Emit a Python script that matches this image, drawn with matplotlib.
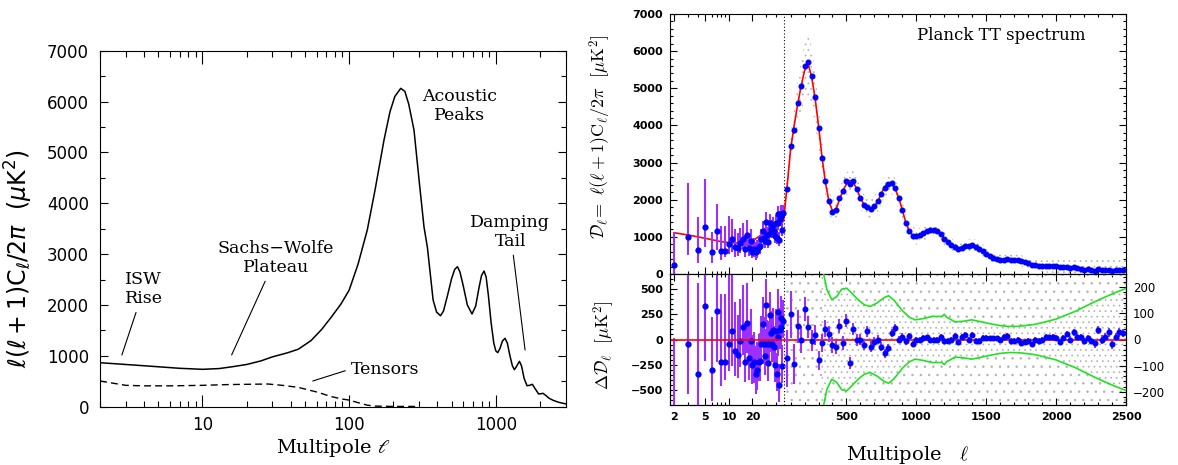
import numpy as np
import matplotlib
matplotlib.use("Agg")
import matplotlib.pyplot as plt
from matplotlib.ticker import FixedLocator, NullFormatter, LogLocator, MultipleLocator

# ---------------- left panel: schematic spectrum ----------------
tt_l = [2, 3, 4, 5, 7, 10, 13, 16, 20, 25, 30, 38, 45, 55, 65, 76, 88, 100, 115, 133,
        150, 173, 190, 205, 225, 240, 255, 277, 300, 324, 342, 374, 395, 420, 440, 470,
        500, 525, 548, 570, 600, 640, 689, 730, 770, 800, 832, 860, 890, 930, 970, 1000,
        1032, 1070, 1110, 1157, 1200, 1250, 1300, 1341, 1390, 1451, 1500, 1560, 1634,
        1700, 1778, 1850, 1963, 2030, 2100, 2200, 2300, 2460, 2700, 2960, 3000]
tt_d = [865, 830, 805, 785, 755, 735, 750, 786, 830, 900, 980, 1060, 1130, 1300, 1520,
        1770, 2020, 2290, 2800, 3474, 4250, 5244, 5800, 6100, 6260, 6200, 5950, 5440,
        4457, 3539, 3130, 2098, 1860, 1789, 1880, 2200, 2520, 2700, 2753, 2650, 2380,
        2000, 1823, 1980, 2350, 2580, 2668, 2550, 2200, 1650, 1250, 1100, 1062, 1150,
        1290, 1345, 1250, 1000, 800, 728, 800, 892, 800, 560, 413, 420, 440, 360, 250,
        255, 263, 220, 170, 126, 85, 59, 55]
tens_l = [2, 3, 4, 6, 10, 15, 20, 28, 35, 45, 60, 76, 90, 100, 115, 133, 150, 200, 300]
tens_d = [505, 420, 410, 410, 420, 435, 440, 446, 420, 380, 290, 197, 150, 130, 80, 30,
          12, 5, 5]

# ---------------- right panel: Planck TT ----------------
th_low_l = [2, 3, 4, 5, 6, 7, 8, 9, 10, 12, 14, 16, 18, 20, 22, 25, 30, 35, 40, 45]
th_low_d = [1110, 1050, 1000, 960, 925, 895, 870, 855, 845, 835, 835, 845, 860, 880,
            950, 1030, 1150, 1250, 1320, 1380]
th_l = list(range(50, 2501, 25))
th_d = [1430, 2350, 3350, 3980, 4550, 5050, 5470, 5660, 5330, 4750, 4000, 3150, 2450,
        1950, 1700, 1740, 2000, 2250, 2420, 2520, 2460, 2280, 2050, 1870, 1780, 1770,
        1830, 1960, 2170, 2360, 2450, 2430, 2280, 2040, 1720, 1380, 1150, 1040, 1010,
        1040, 1090, 1140, 1180, 1190, 1150, 1070, 960, 860, 780, 720, 695, 700, 725, 755,
        765, 745, 690, 620, 545, 480, 430, 400, 383, 378, 382, 387, 385, 375, 355, 330,
        300, 272, 248, 228, 214, 207, 204, 203, 200, 195, 188, 178, 167, 155, 144, 134,
        126, 118, 112, 107, 103, 99, 96, 93, 90, 88, 86, 84, 82]
# spread of the unbinned spectrum around the model (half width)
scat_hw = [150, 300, 400, 500, 600, 700, 800, 850, 800, 700, 600, 500, 400, 320, 300,
           300, 300, 300, 300, 300, 300, 300, 300, 280, 280, 280, 280, 280, 280, 280, 280,
           280, 280, 280, 280, 260, 240, 220, 220, 200, 200, 190, 190, 180, 180, 180, 180,
           180, 180, 180, 180, 180, 180, 180, 180, 180, 180, 180, 170, 160, 150, 150, 150,
           150, 150, 150, 150, 150, 150, 150, 150, 150, 150, 150, 160, 170, 170, 170, 175,
           180, 190, 200, 210, 220, 230, 240, 250, 260, 270, 280, 290, 300, 310, 320, 330,
           340, 350, 360, 370]

low_l = list(range(2, 50))
low_d = [250, 1004, 646, 1274, 601, 1158, 628, 628, 800, 934, 719, 692, 826, 943, 664,
         1049, 692, 898, 601, 680, 580, 635, 730, 750, 940, 1155, 980, 880, 1400, 1040,
         870, 1080, 1380, 1225, 1150, 1310, 1165, 1010, 1370, 970, 1605, 1370, 920, 1480,
         1625, 1555, 1190, 1650]
low_res = [-860, -46, -342, 336, -299, 280, -220, -220, -49, 86, -112, -158, -16, 122,
           -220, 162, -184, -16, -257, -220, -340, -300, -220, -215, -40, 155, -40, -160,
           340, -40, -230, -40, 240, 60, -40, 95, -75, -255, 80, -340, 275, 20, -450, 90,
           215, 125, -260, 180]
low_lo = [300, 490, 360, 550, 310, 500, 240, 180, 260, 350, 250, 220, 260, 280, 200, 300,
          220, 250, 180, 210, 200, 200, 190, 200, 200, 210, 200, 190, 200, 180, 180, 180,
          190, 180, 180, 180, 170, 170, 180, 170, 190, 180, 170, 180, 180, 180, 170, 170]
low_hi = [870, 1440, 900, 1290, 520, 720, 670, 670, 770, 550, 480, 400, 420, 420, 380, 400,
          320, 320, 300, 290, 280, 280, 270, 280, 270, 270, 260, 260, 260, 230, 230, 220,
          230, 220, 220, 220, 210, 210, 220, 210, 230, 220, 210, 220, 220, 220, 210, 210]

# binned residuals (right-hand scale), bins at ell = 75 ... 2475
bin_res = [-72, 97, -94, 50, 0, 117, 46, -5, 18, -80, -14, 41, 22, -20, -29, 53, -14, 71,
           -90, 41, -1, 0, -20, 31, -27, -8, 0, -27, -52, -33, 24, 43, 0, 10, -7, 12, -17,
           0, -3, 5, 8, 0, 0, 0, 10, -6, -4, 0, 12, -10, 10, 19, 0, 17, -6, -6, 5, 5, 5, 5,
           5, 0, 10, 13, -6, -6, 0, -15, -10, -6, -19, 0, -6, 0, 10, 8, 10, 7, -10, 5, 20,
           0, 27, 10, 10, -6, 7, -6, -15, 37, 0, 10, 27, -19, 10, 27, 24]
bin_err = [108, 90, 75, 62, 52, 46, 42, 40, 38, 36, 34, 32, 30, 30, 28, 27, 26, 25, 24, 23,
           22, 22, 21, 20, 20, 19, 18, 18, 17, 16, 15, 15, 14, 13, 13, 12, 12,
           11, 11, 11, 11, 11, 11, 11, 11, 11, 11, 11, 11, 11, 11, 11, 11, 11, 11, 11, 11, 11,
           10, 10, 10, 10, 10, 10, 10, 10, 10, 10, 10, 10, 10, 10, 10, 10, 10, 10, 10, 10,
           12, 12, 12, 12, 12, 12, 12, 12, 12, 12,
           16, 16, 16, 16, 16, 16, 16, 16, 16]

green_l = [320, 336, 360, 395, 431, 466, 502, 538, 586, 630, 670, 720, 770, 801, 840, 900,
           950, 992, 1050, 1111, 1183, 1200, 1215, 1277, 1340, 1396, 1460, 1539, 1600, 1658,
           1720, 1778, 1850, 1921, 2000, 2064, 2140, 2207, 2280, 2350, 2420, 2500]
green_v = [290, 253, 190, 152, 164, 192, 196, 177, 150, 132, 126, 140, 160, 167, 150, 110,
           85, 75, 80, 88, 88, 96, 86, 67, 70, 75, 68, 59, 53, 50, 50, 53, 58, 67, 78, 92,
           108, 126, 145, 162, 178, 195]

# hybrid axis: log below ell=50, linear above
LT, K = 50.0, 559.0


def fwd(x):
    x = np.asarray(x, dtype=float)
    lg = K * np.log10(np.clip(x, 1e-6, None) / LT)
    return np.where(x > LT, x - LT, lg)


def inv(u):
    u = np.asarray(u, dtype=float)
    return np.where(u > 0, u + LT, LT * 10 ** (np.clip(u, -1e5, 0) / K))


plt.rcParams["font.family"] = "DejaVu Sans"
plt.rcParams["hatch.linewidth"] = 0.5
plt.rcParams["hatch.color"] = "#b0b0b0"
grey = "#b0b0b0"

W, H = 1178, 465
fig = plt.figure(figsize=(W / 100, H / 100), dpi=100)


def box(x0, y0, x1, y1):
    return [x0 / W, 1 - y1 / H, (x1 - x0) / W, (y1 - y0) / H]


# ---------------- left ----------------
axL = fig.add_axes(box(100, 50.7, 565.7, 406.7))
axL.plot(tt_l, tt_d, color="black", lw=1.1)
axL.plot(tens_l, tens_d, color="black", lw=1.0, dashes=(5, 3))
axL.set_xscale("log")
axL.set_xlim(2, 3000)
axL.set_ylim(0, 7000)
axL.set_xticks([10, 100, 1000], labels=["10", "100", "1000"])
axL.xaxis.set_minor_locator(LogLocator(subs=np.arange(2, 10)))
axL.xaxis.set_minor_formatter(NullFormatter())
axL.yaxis.set_major_locator(MultipleLocator(1000))
axL.yaxis.set_minor_locator(MultipleLocator(500))
axL.tick_params(which="both", direction="in", top=True, right=True, labelsize=12, width=0.8)
axL.tick_params(axis="y", which="major", length=6, pad=8)
axL.tick_params(axis="y", which="minor", length=3.5)
axL.tick_params(axis="x", which="major", length=9, pad=7)
axL.tick_params(axis="x", which="minor", length=4.5)
axL.set_xlabel(r"Multipole $\ell$", family="DejaVu Serif", fontsize=14,
               math_fontfamily="dejavuserif")
axL.xaxis.set_label_coords(0.5, -0.085)
axL.set_ylabel(r"$\ell(\ell+1)\mathrm{C}_\ell/2\pi\ \ (\mu\mathrm{K}^2)$", fontsize=17)
axL.yaxis.set_label_coords(-0.14, 0.415)

txt = dict(family="DejaVu Serif", fontsize=12.5, ha="center", va="center", linespacing=1.15)
line = dict(arrowstyle="-", lw=0.8, color="black", shrinkA=2, shrinkB=0)
axL.annotate("ISW\nRise", xy=(2.82, 1017), xytext=(3.98, 2314), arrowprops=line, **txt)
axL.annotate("Sachs\u2212Wolfe\nPlateau", xy=(15.8, 1017), xytext=(31.6, 2924),
             arrowprops=line, **txt)
axL.annotate("Tensors", xy=(56.5, 505), xytext=(102.5, 741),
             arrowprops=dict(line, relpos=(0, 0.5)),
             **dict(txt, ha="left"))
axL.text(569, 5912, "Acoustic\nPeaks", **txt)
axL.annotate("Damping\nTail", xy=(1585, 1115), xytext=(1259, 3441), arrowprops=line, **txt)

# ---------------- right ----------------
axT = fig.add_axes(box(670, 14, 1126, 274))
axB = fig.add_axes(box(670, 274, 1126, 405))
axR = axB.twinx()

maj = [2, 5, 10, 20, 500, 1000, 1500, 2000, 2500]
mnr = [3, 4, 6, 7, 8, 9, 30, 40] + [v for v in range(100, 2500, 100) if v % 500]
for ax in (axT, axB):
    ax.set_xscale("function", functions=(fwd, inv))
    ax.set_xlim(1.76, 2500)
    ax.set_xticks(maj, labels=[str(v) for v in maj], fontweight="bold")
    ax.xaxis.set_minor_locator(FixedLocator(mnr))
    ax.axvline(LT, color="black", ls=(0, (1, 2)), lw=0.8, zorder=1)
axT.tick_params(axis="x", labelbottom=False)

purple = "#9b30ff"
blue = "#0000ff"

th_d_arr = np.array(th_d, dtype=float)
hw = np.array(scat_hw, dtype=float)
axT.fill_between(th_l, th_d_arr - hw, th_d_arr + hw, facecolor="none", edgecolor=grey,
                 hatch="...", lw=0, zorder=1)
axT.plot(th_low_l + th_l, th_low_d + th_d, color="red", lw=1.2, zorder=3)
axT.errorbar(low_l, low_d, yerr=[low_lo, low_hi], fmt="o", color=blue, ms=3.5,
             ecolor=purple, elinewidth=1.5, alpha=1, capsize=0, zorder=4)
bin_l = th_l[1:-1]
bin_d = th_d_arr[1:-1] + np.array(bin_res)
axT.plot(bin_l, bin_d, "o", color=blue, ms=3.3, zorder=4)
axT.set_ylim(0, 7000)
axT.set_yticks(range(0, 7001, 1000), labels=[str(v) for v in range(0, 7001, 1000)],
               fontweight="bold")
axT.yaxis.set_minor_locator(MultipleLocator(200))
axT.text(0.727, 0.919, "Planck TT spectrum", transform=axT.transAxes, ha="center",
         va="center", family="DejaVu Serif", fontsize=12)
axT.set_ylabel(r"$\mathcal{D}_\ell\!=\ \ell(\ell+1)\mathrm{C}_\ell/2\pi\ \ [\mu\mathrm{K}^2]$",
               fontsize=13, math_fontfamily="cm")
axT.yaxis.set_label_coords(-0.125, 0.53)

# residuals: unbinned scatter shown as dotted texture, denser inside the green band
green_up = np.array(green_v, dtype=float)
axR.fill_between([LT, 336], -250, 250, facecolor="none", edgecolor=grey, hatch="..",
                 lw=0, zorder=1)
axR.fill_between(green_l, green_up, 250, facecolor="none", edgecolor=grey, hatch="..",
                 lw=0, zorder=1)
axR.fill_between(green_l, -250, -green_up, facecolor="none", edgecolor=grey, hatch="..",
                 lw=0, zorder=1)
axR.fill_between(green_l, -green_up, green_up, facecolor="none", edgecolor=grey,
                 hatch="...", lw=0, zorder=1)
axR.axhline(0, color="red", lw=1.2, zorder=2)
axR.plot(green_l, green_up, color="#22e022", lw=1.2, zorder=3)
axR.plot(green_l, -green_up, color="#22e022", lw=1.2, zorder=3)
axR.errorbar(bin_l, bin_res, yerr=bin_err, fmt="o", color=blue, ms=3.3, ecolor=purple,
             elinewidth=1.5, capsize=0, zorder=4)
axB.errorbar(low_l, low_res, yerr=[low_lo, low_hi], fmt="o", color=blue, ms=3.5,
             ecolor=purple, elinewidth=1.5, capsize=0, zorder=4)
axB.set_ylim(-650, 650)
axR.set_ylim(-250, 250)
axB.set_yticks([-500, -250, 0, 250, 500], labels=["\u2212500", "\u2212250", "0", "250", "500"],
               fontweight="bold")
axB.yaxis.set_minor_locator(MultipleLocator(50))
axR.set_yticks([-200, -100, 0, 100, 200], labels=["\u2212200", "\u2212100", "0", "100", "200"])
axR.yaxis.set_minor_locator(MultipleLocator(20))
axB.set_ylabel(r"$\Delta\mathcal{D}_\ell\ \ [\mu\mathrm{K}^2]$", fontsize=13,
               math_fontfamily="cm")
axB.yaxis.set_label_coords(-0.116, 0.458)
axB.set_xlabel(r"Multipole   $\ell$", family="DejaVu Serif", fontsize=14,
               math_fontfamily="cm")
axB.xaxis.set_label_coords(0.52, -0.3)

for ax in (axT, axB):
    ax.tick_params(which="both", direction="in", top=True, width=0.8, labelsize=8)
    ax.tick_params(which="major", length=5, pad=5)
    ax.tick_params(which="minor", length=2.5)
axT.tick_params(axis="y", which="both", right=True)
axB.tick_params(axis="y", which="both", right=False)
axR.tick_params(which="both", direction="in", width=0.8, labelsize=8.5, pad=5)
axR.tick_params(which="major", length=5)
axR.tick_params(which="minor", length=2.5)

fig.savefig("out.png", dpi=100)
